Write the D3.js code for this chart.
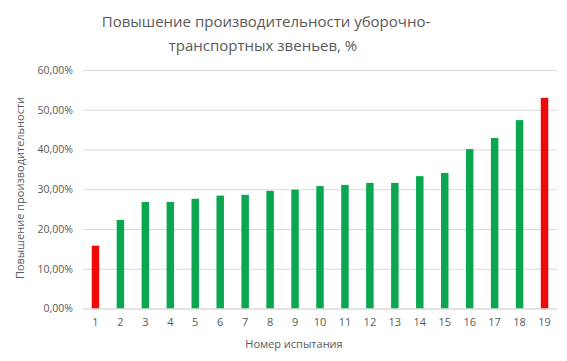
<!DOCTYPE html>
<html>
<head>
<meta charset="utf-8">
<script src="https://cdn.jsdelivr.net/npm/d3@7"></script>
<style>
  body { margin: 0; background: #fff; }
  text { font-family: "Open Sans", "Noto Sans", sans-serif; fill: #595959; }
</style>
</head>
<body>
<div id="chart"></div>
<script>
// test numbers and gain of each test
const tests = ["1", "2", "3", "4", "5", "6", "7", "8", "9", "10",
    "11", "12", "13", "14", "15", "16", "17", "18", "19"];
const gain = [15.8, 22.3, 26.8, 26.8, 27.6, 28.4, 28.6, 29.6, 29.9, 30.8,
    31.1, 31.6, 31.6, 33.3, 34.1, 40.1, 42.9, 47.4, 53.0];
const yTicks = [0, 10, 20, 30, 40, 50, 60];
const highlighted = ["1", "19"];

function main() {
    const W = 567, H = 361;
    const margin = {top: 70, right: 10, bottom: 52.5, left: 83},
        width = W - margin.left - margin.right,
        height = H - margin.top - margin.bottom;

    const root = d3.select("#chart")
        .append("svg")
        .attr("width", W)
        .attr("height", H);

    // title on two lines
    const title = root.append("text")
        .attr("x", 265)
        .attr("y", 27)
        .attr("text-anchor", "middle")
        .attr("font-size", "15px");
    title.append("tspan").attr("x", 266).text("Повышение производительности уборочно-");
    title.append("tspan").attr("x", 263).attr("dy", 23.5).text("транспортных звеньев, %");

    const svg = root.append("g")
        .attr("transform", `translate(${margin.left},${margin.top})`);

    const x = d3.scaleBand()
        .domain(tests)
        .range([0, width])
        .paddingInner(0.7)
        .paddingOuter(0.35);

    const y = d3.scaleLinear()
        .domain([0, 60])
        .range([height, 0]);

    // gridlines + y labels
    const yAxis = d3.axisLeft(y)
        .tickValues(yTicks)
        .tickSize(-width)
        .tickPadding(10)
        .tickFormat(d => d3.format(".2f")(d).replace(".", ",") + "%");

    svg.append("g")
        .call(yAxis)
        .call(g => g.select(".domain").remove())
        .call(g => g.selectAll(".tick line").attr("stroke", "#d9d9d9"))
        .call(g => g.selectAll(".tick text").attr("font-size", "10.5px").attr("fill", "#595959"));

    svg.append("g")
        .selectAll("rect")
        .data(tests)
        .enter()
        .append("rect")
        .attr("x", (d) => x(d))
        .attr("y", (d, i) => y(gain[i]))
        .attr("width", x.bandwidth())
        .attr("height", (d, i) => height - y(gain[i]))
        .attr("fill", d => highlighted.includes(d) ? "#ee0a0a" : "#0aa650");

    const xAxis = d3.axisBottom(x).tickSize(0).tickPadding(10);
    svg.append("g")
        .attr("transform", `translate(0,${height})`)
        .call(xAxis)
        .call(g => g.select(".domain").attr("stroke", "#d9d9d9"))
        .call(g => g.selectAll(".tick text").attr("font-size", "11px").attr("fill", "#595959"));

    // axis titles
    root.append("text")
        .attr("x", 294)
        .attr("y", 348)
        .attr("text-anchor", "middle")
        .attr("font-size", "11px")
        .text("Номер испытания");

    root.append("text")
        .attr("transform", "translate(24,188) rotate(-90)")
        .attr("text-anchor", "middle")
        .attr("font-size", "11px")
        .text("Повышение производительности");
}

main()
</script>
</body>
</html>
